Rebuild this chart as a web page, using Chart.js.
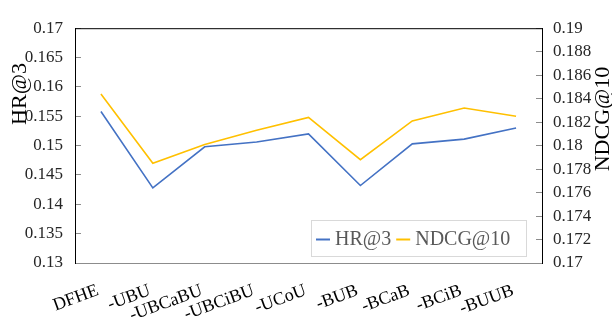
<!DOCTYPE html>
<html><head><meta charset="utf-8">
<script src="https://cdn.jsdelivr.net/npm/chart.js@4/dist/chart.umd.min.js"></script>
<style>html,body{margin:0;padding:0;background:#fff;overflow:hidden}#wrap{width:612px;height:323px}</style>
</head><body><div id="wrap"><canvas id="c" width="612" height="323"></canvas></div>
<script>
const categories = ["DFHE","-UBU","-UBCaBU","-UBCiBU","-UCoU","-BUB","-BCaB","-BCiB","-BUUB"];
const hrValues = [0.1558,0.1428,0.1498,0.1506,0.1520,0.1432,0.1503,0.1511,0.1530];
const ndcgValues = [0.1844,0.1785,0.1801,0.1813,0.1824,0.1788,0.1821,0.1832,0.1825];
const leftTicks = [0.13,0.135,0.14,0.145,0.15,0.155,0.16,0.165,0.17];
const rightTicks = [0.17,0.172,0.174,0.176,0.178,0.18,0.182,0.184,0.186,0.188,0.19];
const seriesNames = ["HR@3","NDCG@10"];
const leftTitle = "HR@3";
const rightTitle = "NDCG@10";

const FONT = "Liberation Serif";
const fmt = v => String(Number(Number(v).toFixed(4)));

const framePlugin = {
  id: 'frame',
  afterDraw(chart) {
    const ctx = chart.ctx, a = chart.chartArea;
    ctx.save();
    ctx.strokeStyle = '#000'; ctx.lineWidth = 1;
    ctx.beginPath(); ctx.moveTo(a.left, a.top + 0.5); ctx.lineTo(a.right, a.top + 0.5); ctx.stroke();
    ctx.fillStyle = '#000';
    ctx.font = '22px "' + FONT + '"';
    ctx.textAlign = 'center'; ctx.textBaseline = 'middle';
    ctx.save(); ctx.translate(20, 94); ctx.rotate(-Math.PI/2); ctx.fillText(leftTitle, 0, 0); ctx.restore();
    ctx.save(); ctx.translate(603, 119); ctx.rotate(-Math.PI/2); ctx.fillText(rightTitle, 0, 0); ctx.restore();
    const bx = 311.5, by = 220.5, bw = 215, bh = 36;
    ctx.fillStyle = '#fff'; ctx.fillRect(bx, by, bw, bh);
    ctx.strokeStyle = '#d9d9d9'; ctx.lineWidth = 1; ctx.strokeRect(bx, by, bw, bh);
    ctx.font = '20px "' + FONT + '"';
    ctx.textAlign = 'left'; ctx.textBaseline = 'middle';
    let x = 316; const y = by + bh/2 + 1;
    chart.data.datasets.forEach(ds => {
      ctx.strokeStyle = ds.borderColor; ctx.lineWidth = 2;
      ctx.beginPath(); ctx.moveTo(x, y); ctx.lineTo(x + 14, y); ctx.stroke();
      x += 19;
      ctx.fillStyle = '#595959';
      ctx.fillText(ds.label, x, y);
      x += ctx.measureText(ds.label).width + 5;
    });
    ctx.restore();
  }
};

new Chart(document.getElementById('c'), {
  type: 'line',
  data: {
    labels: categories,
    datasets: [
      { label: seriesNames[0], data: hrValues, yAxisID: 'y', borderColor: '#4472C4', backgroundColor: '#4472C4', borderWidth: 1.6, pointRadius: 0, tension: 0 },
      { label: seriesNames[1], data: ndcgValues, yAxisID: 'y1', borderColor: '#FFC000', backgroundColor: '#FFC000', borderWidth: 1.6, pointRadius: 0, tension: 0 }
    ]
  },
  options: {
    responsive: false, animation: false, devicePixelRatio: 1,
    layout: { padding: { top: 13, left: 0, right: 0, bottom: 0 } },
    plugins: { legend: { display: false }, tooltip: { enabled: false } },
    scales: {
      x: {
        type: 'category', offset: true,
        grid: { drawOnChartArea: false, drawTicks: false },
        border: { color: '#8c8c8c', width: 1 },
        ticks: { autoSkip: false, minRotation: 20, maxRotation: 20, padding: 17, labelOffset: -3, color: '#000', font: { family: FONT, size: 18 } },
        afterFit: s => { s.height = 60; }
      },
      y: {
        position: 'left', min: 0.13, max: 0.17,
        afterBuildTicks: s => { s.ticks = leftTicks.map(v => ({ value: v })); },
        grid: { drawOnChartArea: false, tickLength: -6, color: '#8c8c8c' },
        border: { color: '#000', width: 1 },
        ticks: { padding: 18, color: '#262626', callback: v => fmt(v), font: { family: FONT, size: 17 } },
        afterFit: s => { s.width = 75; }
      },
      y1: {
        position: 'right', min: 0.17, max: 0.19,
        afterBuildTicks: s => { s.ticks = rightTicks.map(v => ({ value: v })); },
        grid: { drawOnChartArea: false, tickLength: -6, color: '#8c8c8c' },
        border: { color: '#000', width: 1 },
        ticks: { padding: 17, color: '#262626', callback: v => fmt(v), font: { family: FONT, size: 17 } },
        afterFit: s => { s.width = 70; }
      }
    }
  },
  plugins: [framePlugin]
});
</script></body></html>
